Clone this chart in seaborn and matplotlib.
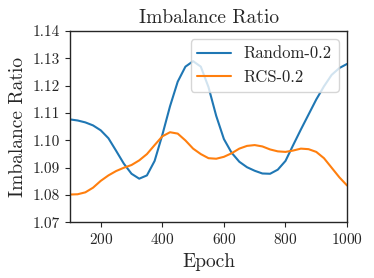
import numpy as np
import pandas as pd
import seaborn as sns
import matplotlib
matplotlib.use('Agg')
import matplotlib.pyplot as plt

# Data
epochs = list(range(100, 1001, 25))
random_02 = [1.1077, 1.1073, 1.1066, 1.1055, 1.1037, 1.1008, 1.0962, 1.0915,
             1.0878, 1.0860, 1.0872, 1.0925, 1.1020, 1.1125, 1.1215, 1.1270,
             1.1290, 1.1270, 1.1195, 1.1090, 1.1005, 1.0955, 1.0922, 1.0902,
             1.0889, 1.0879, 1.0878, 1.0893, 1.0925, 1.0983, 1.1040, 1.1095,
             1.1150, 1.1198, 1.1240, 1.1265, 1.1280]
rcs_02 = [1.0802, 1.0803, 1.0810, 1.0827, 1.0852, 1.0872, 1.0888, 1.0900,
          1.0910, 1.0927, 1.0950, 1.0983, 1.1015, 1.1030, 1.1025, 1.1000,
          1.0970, 1.0950, 1.0935, 1.0933, 1.0940, 1.0953, 1.0970, 1.0980,
          1.0983, 1.0978, 1.0967, 1.0960, 1.0958, 1.0963, 1.0970, 1.0968,
          1.0958, 1.0935, 1.0900, 1.0865, 1.0835]
series_names = ['Random-0.2', 'RCS-0.2']
colors = ['#1f77b4', '#ff7f0e']

df = pd.DataFrame({
    'Epoch': epochs * 2,
    'Imbalance Ratio': random_02 + rcs_02,
    'Method': [series_names[0]] * len(epochs) + [series_names[1]] * len(epochs),
})

sns.set_style('ticks')
plt.rcParams['font.family'] = 'serif'
plt.rcParams['font.serif'] = ['cmr10', 'DejaVu Serif']
plt.rcParams['axes.formatter.use_mathtext'] = True
plt.rcParams['mathtext.fontset'] = 'cm'

fig = plt.figure(figsize=(3.74, 2.78), dpi=100)
ax = fig.add_axes([0.187, 0.2, 0.741, 0.688])

sns.lineplot(data=df, x='Epoch', y='Imbalance Ratio', hue='Method',
             palette=colors, linewidth=1.5, ax=ax)

ax.set_xlim(100, 1000)
ax.set_ylim(1.07, 1.14)
ax.set_xticks([200, 400, 600, 800, 1000])
ax.set_yticks([1.07, 1.08, 1.09, 1.10, 1.11, 1.12, 1.13, 1.14])
ax.set_yticklabels(['1.07', '1.08', '1.09', '1.10', '1.11', '1.12', '1.13', '1.14'])
ax.tick_params(labelsize=11)
ax.set_xlabel('Epoch', fontsize=14)
ax.set_ylabel('Imbalance Ratio', fontsize=14)
ax.set_title('Imbalance Ratio', fontsize=14)
ax.legend(loc='upper right', fontsize=12, title=None)
for s in ax.spines.values():
    s.set_linewidth(1.0)

fig.savefig('out.png', dpi=100)
